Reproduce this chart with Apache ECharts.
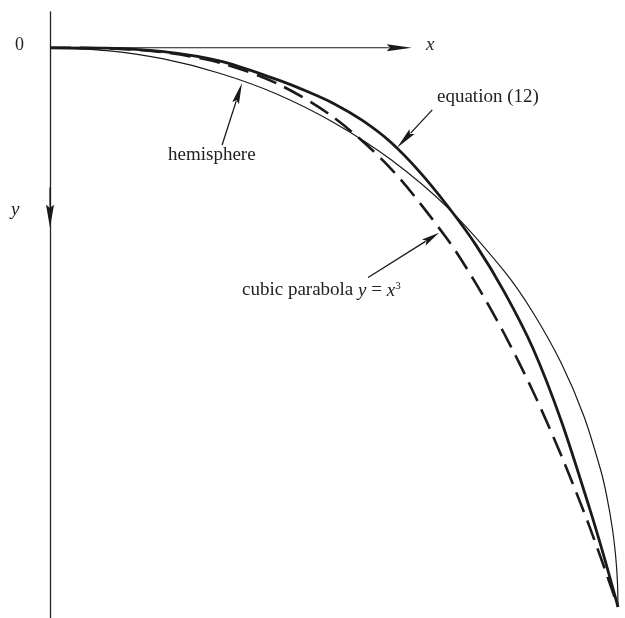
<!DOCTYPE html>
<html>
<head>
<meta charset="utf-8">
<title>hemisphere, equation (12), cubic parabola</title>
<script src="https://cdn.jsdelivr.net/npm/echarts@6/dist/echarts.min.js"></script>
<style>
  html, body { margin: 0; padding: 0; background: #fff; }
  #chart { width: 625px; height: 618px; }
</style>
</head>
<body>
<div id="chart"></div>
<script>
// values, x to the right and y downwards, both 0..1
const hemisphereX = [0, 0.1, 0.2, 0.3, 0.4, 0.5, 0.6, 0.7, 0.8, 0.85, 0.9, 0.94, 0.97, 0.98, 0.99, 0.996, 0.999, 1.0];
const hemisphereY = [0, 0.005, 0.02, 0.046, 0.083, 0.134, 0.2, 0.286, 0.4, 0.473, 0.564, 0.659, 0.757, 0.801, 0.859, 0.911, 0.955, 1.0];

const equationX = [0, 0.1, 0.2, 0.3, 0.4, 0.45, 0.5, 0.55, 0.6, 0.65, 0.7, 0.75, 0.8, 0.85, 0.9, 0.95, 0.975, 1.0];
const equationY = [0, 0.0005, 0.007, 0.024, 0.057, 0.077, 0.1, 0.13, 0.169, 0.221, 0.283, 0.353, 0.437, 0.537, 0.667, 0.824, 0.909, 1.0];

const cubicX = [0, 0.1, 0.2, 0.3, 0.4, 0.5, 0.6, 0.7, 0.75, 0.8, 0.85, 0.9, 0.95, 1.0];
const cubicY = [0, 0.001, 0.008, 0.027, 0.064, 0.125, 0.216, 0.343, 0.422, 0.512, 0.614, 0.729, 0.857, 1.0];

const INK = '#1a1a1a';
const SERIF = '"Liberation Serif", "DejaVu Serif", serif';

function pairs(xs, ys) {
  return xs.map((x, i) => [x, ys[i]]);
}

// arrows: x1, y1, x2 (tip), y2 (tip), head length, head width, line width
const arrows = [
  [0, 0, 0.637, 0, 25, 7, 1.1],          // x axis
  [0, 0.25, 0, 0.322, 23, 8, 1.2],       // arrow on y axis
  [0.303, 0.174, 0.338, 0.063, 21, 7, 1.3],
  [0.673, 0.111, 0.611, 0.179, 22, 7, 1.3],
  [0.560, 0.411, 0.685, 0.331, 18, 7, 1.3]
];

function renderArrow(params, api) {
  const a = api.coord([api.value(0), api.value(1)]);
  const b = api.coord([api.value(2), api.value(3)]);
  const len = api.value(4), w = api.value(5);
  const dx = b[0] - a[0], dy = b[1] - a[1];
  const d = Math.hypot(dx, dy);
  const ux = dx / d, uy = dy / d;
  const bx = b[0] - ux * len, by = b[1] - uy * len;
  const px = -uy * w / 2, py = ux * w / 2;
  return {
    type: 'group',
    children: [
      { type: 'line', shape: { x1: a[0], y1: a[1], x2: bx + ux * 2, y2: by + uy * 2 },
        style: { stroke: INK, lineWidth: api.value(6) } },
      { type: 'polygon',
        shape: { points: [[b[0], b[1]], [bx + px, by + py], [bx + ux * 3, by + uy * 3], [bx - px, by - py]] },
        style: { fill: INK } }
    ]
  };
}

const chart = echarts.init(document.getElementById('chart'));

const option = {
  animation: false,
  backgroundColor: '#fff',
  grid: { left: 50, right: 7, top: 12, bottom: 0, containLabel: false },
  xAxis: {
    type: 'value', min: 0, max: 1, show: false
  },
  yAxis: {
    type: 'value', min: -0.064, max: 1.02, inverse: true,
    axisLine: { show: true, lineStyle: { color: '#222', width: 1.3 } },
    axisTick: { show: false },
    axisLabel: { show: false },
    splitLine: { show: false }
  },
  series: [
    {
      name: 'hemisphere', type: 'line', data: pairs(hemisphereX, hemisphereY),
      showSymbol: false, smooth: 0.3,
      lineStyle: { color: INK, width: 1.2 }
    },
    {
      name: 'equation (12)', type: 'line', data: pairs(equationX, equationY),
      showSymbol: false, smooth: 0.3,
      lineStyle: { color: INK, width: 2.8 }
    },
    {
      name: 'cubic parabola', type: 'line', data: pairs(cubicX, cubicY),
      showSymbol: false, smooth: 0.3,
      lineStyle: { color: INK, width: 2.6, type: [21, 9] }
    },
    {
      type: 'custom', renderItem: renderArrow, data: arrows,
      encode: { x: [0, 2], y: [1, 3] }, silent: true
    }
  ],
  graphic: [
    { type: 'text', left: 15, top: 36, style: { text: '0', font: '18px ' + SERIF, fill: '#222' } },
    { type: 'text', left: 426, top: 35, style: { text: 'x', font: 'italic 19px ' + SERIF, fill: '#222' } },
    { type: 'text', left: 11, top: 200, style: { text: 'y', font: 'italic 19px ' + SERIF, fill: '#222' } },
    { type: 'text', left: 168, top: 146, style: { text: 'hemisphere', font: '19px ' + SERIF, fill: '#222' } },
    { type: 'text', left: 437, top: 88, style: { text: 'equation (12)', font: '19px ' + SERIF, fill: '#222' } },
    {
      type: 'text', left: 242, top: 281,
      style: {
        text: '{t|cubic parabola }{i|y}{t| = }{i|x}{s|3}',
        rich: {
          t: { fontFamily: SERIF, fontSize: 19, fill: '#222' },
          i: { fontFamily: SERIF, fontSize: 19, fontStyle: 'italic', fill: '#222' },
          s: { fontFamily: SERIF, fontSize: 11, fill: '#222', verticalAlign: 'top' }
        }
      }
    }
  ]
};

chart.setOption(option);
</script>
</body>
</html>
